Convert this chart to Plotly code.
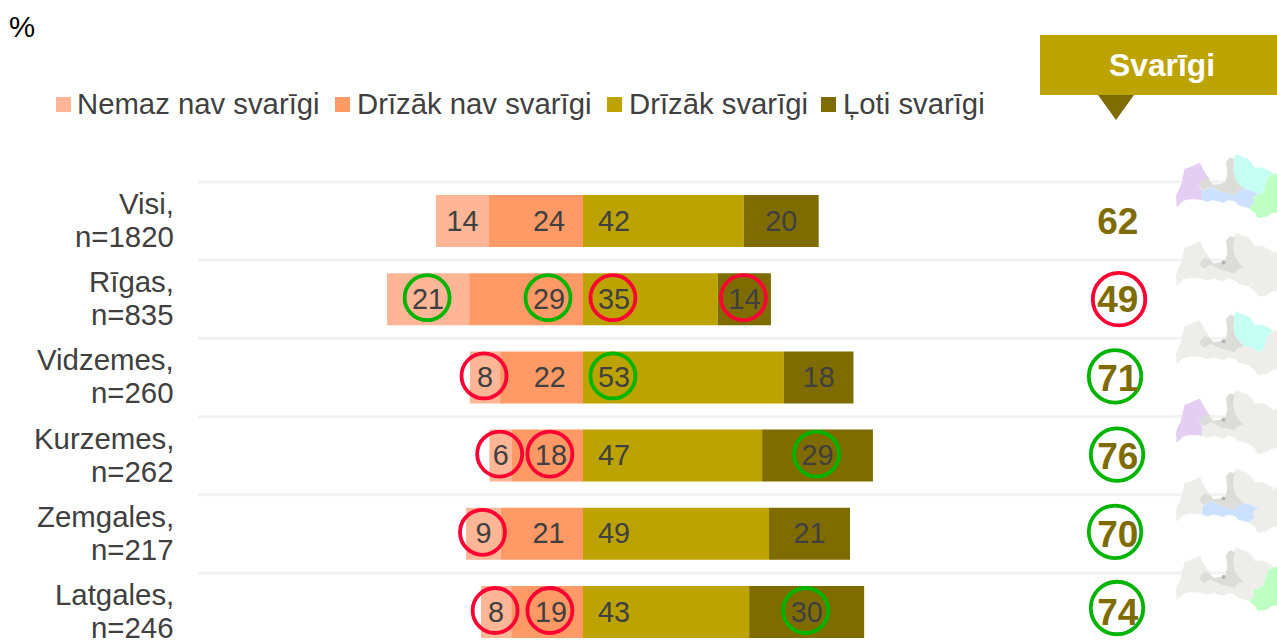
import plotly.graph_objects as go

# ---------- data ----------
groups = ["Visi,", "Rīgas,", "Vidzemes,", "Kurzemes,", "Zemgales,", "Latgales,"]
sample_sizes = ["n=1820", "n=835", "n=260", "n=262", "n=217", "n=246"]

not_at_all = [13.9, 21.5, 7.9, 5.9, 9.1, 7.9]
rather_not = [24.6, 29.8, 21.7, 18.6, 21.5, 18.8]
rather_yes = [42.1, 35.3, 52.6, 46.9, 48.7, 43.5]
very = [19.6, 13.9, 18.2, 29.0, 21.2, 30.1]

not_at_all_labels = ["14", "21", "8", "6", "9", "8"]
rather_not_labels = ["24", "29", "22", "18", "21", "19"]
rather_yes_labels = ["42", "35", "53", "47", "49", "43"]
very_labels = ["20", "14", "18", "29", "21", "30"]
important_labels = ["62", "49", "71", "76", "70", "74"]

# +1 significantly higher (green ring), -1 significantly lower (red ring)
not_at_all_sig = [0, 1, -1, -1, -1, -1]
rather_not_sig = [0, 1, 0, -1, 0, -1]
rather_yes_sig = [0, -1, 1, 0, 0, 0]
very_sig = [0, -1, 0, 1, 0, 1]
important_sig = [0, -1, 1, 1, 1, 1]

legend_names = ["Nemaz nav svarīgi", "Drīzāk nav svarīgi", "Drīzāk svarīgi", "Ļoti svarīgi"]
header_text = "Svarīgi"
unit_text = "%"

# ---------- styles / geometry ----------
W, H = 1277, 644
C1, C2, C3, C4 = "#FFB697", "#FF9966", "#BDA300", "#7F6C00"
TXT = "#404040"
RED, GREEN = "#FF0033", "#00B400"
FONT = "Liberation Sans, Arial, sans-serif"
FS = 28.8
FS_TEXT = 29.4
ZERO_PX, UNIT_PX, LEFT_PX = 583, 3.82, 198
ROW0_PX, ROW_PX = 221, 78.2
y_range = [(H - ROW0_PX) / ROW_PX, -ROW0_PX / ROW_PX]
x_range = [-ZERO_PX / UNIT_PX, (W - ZERO_PX) / UNIT_PX]
rows = list(range(len(groups)))

fig = go.Figure()
for vals, col in [(rather_not, C2), (not_at_all, C1)]:
    fig.add_bar(y=rows, x=[-v for v in vals], orientation="h", width=0.665,
                marker=dict(color=col, line=dict(width=0)), hoverinfo="skip")
for vals, col in [(rather_yes, C3), (very, C4)]:
    fig.add_bar(y=rows, x=vals, orientation="h", width=0.665,
                marker=dict(color=col, line=dict(width=0)), hoverinfo="skip")

# label x positions, in axis units
x_not_at_all = [-(b + a / 2) for a, b in zip(not_at_all, rather_not)]
x_rather_not = [-8.9, -8.9, -8.7, -8.4, -9.0, -8.4]
x_rather_yes = [8.1] * 6
x_very = [a + b / 2 for a, b in zip(rather_yes, very)]
x_important = [140.0] * 6

DX, DY = -1 / UNIT_PX, -1.5 / ROW_PX
LABEL_DY = 2.5 / ROW_PX
SUM_DY = 4 / ROW_PX
label_rows = [r + LABEL_DY for r in rows]
sum_rows = [r + SUM_DY for r in rows]
# small per-row placement of the large rings, in px
ring_dx_px = [0, 2, -2, 0, -2, 0]
ring_dy_px = [0, 0, -1, -1, -2, -4]


def rings(sig, xs, size, width, dx=None, dy=None):
    dx = dx or [DX] * 6
    dy = dy or [DY] * 6
    for flag, col in [(1, GREEN), (-1, RED)]:
        idx = [i for i in rows if sig[i] == flag]
        if idx:
            fig.add_scatter(x=[xs[i] + dx[i] for i in idx], y=[i + dy[i] for i in idx], mode="markers",
                            marker=dict(symbol="circle-open", size=size, color=col, line=dict(width=width, color=col)),
                            hoverinfo="skip", cliponaxis=False)


for sig, xs in [(not_at_all_sig, x_not_at_all), (rather_not_sig, x_rather_not),
                (rather_yes_sig, x_rather_yes), (very_sig, x_very)]:
    rings(sig, xs, 45, 3.8)
rings(important_sig, x_important, 52.5, 3.8,
      dx=[-0.2 + d / UNIT_PX for d in ring_dx_px], dy=[d / ROW_PX for d in ring_dy_px])

for xs, labs in [(x_not_at_all, not_at_all_labels), (x_rather_not, rather_not_labels),
                 (x_rather_yes, rather_yes_labels), (x_very, very_labels)]:
    fig.add_scatter(x=xs, y=label_rows, text=labs, mode="text", textposition="middle center",
                    textfont=dict(family=FONT, size=FS, color=TXT), hoverinfo="skip", cliponaxis=False)
fig.add_scatter(x=x_important, y=sum_rows, text=important_labels, mode="text", textposition="middle center",
                textfont=dict(family=FONT, size=37, color="#7F6C00", weight="bold"), hoverinfo="skip", cliponaxis=False)

# ---------- decoration in a pixel-space overlay axis ----------
shapes, annots = [], []


def px_rect(x0, y0, x1, y1, col):
    shapes.append(dict(type="rect", xref="x2", yref="y2", x0=x0, y0=y0, x1=x1, y1=y1,
                       fillcolor=col, line=dict(width=0), layer="above"))


def px_text(x, y, text, size=FS_TEXT, col=TXT, anchor="left", bold=False):
    if bold:
        text = "<b>" + text + "</b>"
    annots.append(dict(xref="x2", yref="y2", x=x, y=y, text=text, showarrow=False, xanchor=anchor, yanchor="middle",
                       font=dict(family=FONT, size=size, color=col), xshift=0, yshift=0, borderpad=0, borderwidth=0))


# separators
for i in range(6):
    shapes.append(dict(type="line", xref="x", yref="y", x0=(LEFT_PX - ZERO_PX) / UNIT_PX, x1=x_range[1],
                       y0=i - 0.5, y1=i - 0.5, line=dict(color="#F2F2F2", width=3), layer="below"))

# category labels (two lines each)
for i in rows:
    yc = ROW0_PX + ROW_PX * i
    px_text(173.5, yc - 17.5, groups[i], anchor="right")
    px_text(173.5, yc + 15.5, sample_sizes[i], anchor="right")

# legend
for (sx, tx), name, col in zip([(56, 77), (335, 357), (607, 628.5), (821, 843)], legend_names, [C1, C2, C3, C4]):
    px_rect(sx, 97, sx + 15, 112, col)
    px_text(tx, 103.5, name, size=29.3)

px_text(9, 26.5, unit_text, col="#000000")

# header
px_rect(1040, 35, 1277, 95, C3)
px_text(1162, 65, header_text, size=31.8, col="#FFFFFF", anchor="center", bold=True)
shapes.append(dict(type="path", xref="x2", yref="y2", path="M1098,95 L1134,95 L1116,120 Z",
                   fillcolor=C4, line=dict(width=0), layer="above"))

# map outlines, in 3x zoomed pixels relative to the map origin
KURZEME = [(20,172),(18,140),(24,122),(32,108),(38,80),(44,56),(60,52),(72,46),(90,38),(96,52),(104,66),(116,84),(120,92),(104,88),(86,106),(98,124),(96,150),(78,148),(60,148),(40,152),(30,162)]
PIERIGA = [(86,106),(104,86),(120,92),(130,104),(150,102),(166,96),(172,72),(168,36),(180,22),(194,28),(190,60),(195,85),(205,100),(222,116),(202,124),(194,136),(176,130),(156,126),(136,116),(122,110),(100,122)]
VIDZEME = [(190,26),(200,12),(214,20),(228,24),(244,36),(254,54),(272,52),(286,56),(310,70),(296,80),(288,100),(280,128),(268,134),(240,120),(222,116),(205,100),(195,85),(190,60),(194,40)]
LATGALE = [(323,68),(312,72),(296,80),(288,100),(280,128),(268,134),(250,140),(252,160),(236,174),(254,188),(264,204),(290,200),(304,190),(323,186)]
ZEMGALE = [(96,150),(98,124),(122,110),(136,116),(156,126),(176,130),(194,136),(202,124),(222,116),(240,120),(268,134),(250,140),(252,160),(236,174),(206,166),(196,156),(176,150),(160,158),(130,150),(110,156)]
MAP_X, MAP_Y, MAP_STEP = 1170, 150, 78.6
GREY, DARK = "#EDEEEA", "#DCDDD8"
HILITE = dict(kurzeme="#E4CFF2", vidzeme="#C5FFF3", zemgale="#CCE0FF", latgale="#BFFFC4", pieriga=DARK)
REGIONS = dict(kurzeme=KURZEME, vidzeme=VIDZEME, zemgale=ZEMGALE, latgale=LATGALE, pieriga=PIERIGA)
MAP_ON = [("kurzeme", "vidzeme", "zemgale", "latgale"), (), ("vidzeme",), ("kurzeme",), ("zemgale",), ("latgale",)]

for i, on in enumerate(MAP_ON):
    oy = MAP_Y + MAP_STEP * i
    for name, poly in REGIONS.items():
        col = HILITE[name] if (name in on or name == "pieriga") else GREY
        path = "M" + " L".join(f"{MAP_X + x / 3:.1f},{oy + y / 3:.1f}" for x, y in poly) + " Z"
        shapes.append(dict(type="path", xref="x2", yref="y2", path=path, fillcolor=col, line=dict(width=0), layer="above"))
    if i > 0:
        shapes.append(dict(type="circle", xref="x2", yref="y2", x0=MAP_X + 51.5, x1=MAP_X + 55.5, y0=oy + 32, y1=oy + 36,
                           fillcolor="#B4B4B4", line=dict(width=0), layer="above"))

fig.update_layout(
    width=W, height=H, autosize=False, margin=dict(l=0, r=0, t=0, b=0, pad=0),
    paper_bgcolor="white", plot_bgcolor="white", barmode="relative", showlegend=False,
    xaxis=dict(domain=[0, 1], range=x_range, visible=False, fixedrange=True),
    yaxis=dict(domain=[0, 1], range=y_range, visible=False, fixedrange=True),
    xaxis2=dict(domain=[0, 1], range=[0, W], visible=False, overlaying="x", fixedrange=True, anchor="y2"),
    yaxis2=dict(domain=[0, 1], range=[H, 0], visible=False, overlaying="y", fixedrange=True, anchor="x2"),
    shapes=shapes, annotations=annots, font=dict(family=FONT, color=TXT),
)
# keep the overlay axes alive with an invisible trace
fig.add_scatter(x=[0, W], y=[0, H], xaxis="x2", yaxis="y2", mode="markers", marker=dict(opacity=0), hoverinfo="skip")

fig.write_html("out.html", config=dict(displayModeBar=False, responsive=False),
               post_script="document.body.style.margin='0';document.documentElement.style.overflow='hidden';")
